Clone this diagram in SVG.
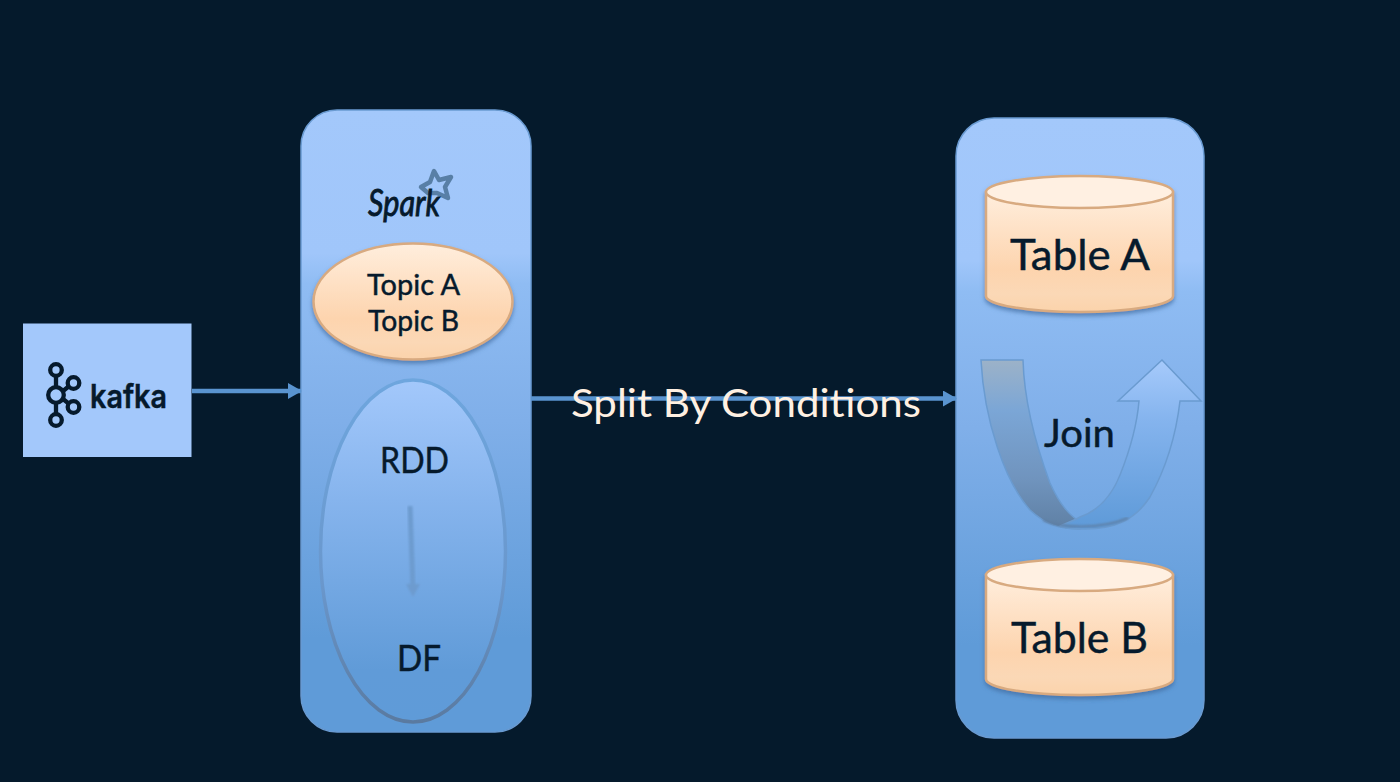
<svg xmlns="http://www.w3.org/2000/svg" width="1400" height="782" viewBox="0 0 1400 782">
<defs>
<style>
text{font-family:"Lato","Open Sans","Liberation Sans",sans-serif;fill:#061a2c;stroke:#061a2c;stroke-width:.45;text-anchor:middle}
.panel{fill:url(#panelGrad);stroke:#6a9bd2;stroke-width:1.500}
.cyl{fill:url(#cylGrad);stroke:#d8aa80;stroke-width:2.500}
.cyltop{fill:#fff0e2;stroke:#d8aa80;stroke-width:2.500}
.conn{stroke:#5a94d0;stroke-width:4.500;fill:none;marker-end:url(#head)}
.k{fill:none;stroke:#061a2c;stroke-width:4.300}
</style>
<marker id="head" markerUnits="userSpaceOnUse" markerWidth="14" markerHeight="16" refX="13" refY="8" orient="auto"><path d="M0 0L14 8L0 16Z" fill="#5a94d0"/></marker>
<linearGradient id="panelGrad" x1="0" y1="0" x2="0" y2="1">
<stop offset="0" stop-color="#a3c8fb"/><stop offset=".23" stop-color="#a0c6fa"/><stop offset=".28" stop-color="#8fbcf3"/><stop offset=".5" stop-color="#80afe9"/><stop offset=".85" stop-color="#5f9bd8"/><stop offset="1" stop-color="#5f9bd8"/>
</linearGradient>
<linearGradient id="cylGrad" x1="0" y1="0" x2="0" y2="1"><stop offset="0" stop-color="#ffeedd"/><stop offset=".65" stop-color="#fdd4ae"/><stop offset=".85" stop-color="#fbd8b6"/><stop offset="1" stop-color="#fbd3ab"/></linearGradient>
<linearGradient id="rddGrad" x1="0" y1="0" x2="0" y2="1"><stop offset="0" stop-color="#a3c8fb"/><stop offset=".35" stop-color="#86b4ed"/><stop offset=".85" stop-color="#609bd8"/><stop offset="1" stop-color="#5f9bd8"/></linearGradient>
<linearGradient id="rddStroke" x1="0" y1="0" x2="0" y2="1"><stop offset="0" stop-color="#6ea6de"/><stop offset=".6" stop-color="#6a97cc"/><stop offset="1" stop-color="#5a7aa0"/></linearGradient>
<linearGradient id="uBack" x1="0" y1="0" x2="0" y2="1"><stop offset="0" stop-color="#9cb2c8"/><stop offset=".3" stop-color="#7ba6d6"/><stop offset=".7" stop-color="#7094be"/><stop offset="1" stop-color="#5f80a4"/></linearGradient>
<linearGradient id="uFront" x1="0" y1="0" x2="0" y2="1"><stop offset="0" stop-color="#a6cafb"/><stop offset=".35" stop-color="#85b4ee"/><stop offset="1" stop-color="#5e9ad8"/></linearGradient>
<filter id="soft" x="-100%" y="-10%" width="300%" height="120%"><feGaussianBlur stdDeviation="1.200"/></filter>
<filter id="shadow" x="-10%" y="-10%" width="120%" height="125%"><feDropShadow dx="0" dy="3" stdDeviation="2" flood-color="#3f6a9e" flood-opacity=".7"/></filter>
</defs>
<rect width="1400" height="782" fill="#051a2c"/>
<g id="kafka">
<rect x="23" y="323.500" width="168.500" height="133.500" fill="#a3c8fb"/>
<path class="k" d="M56 376L56 386M56 414L56 404M63 391L68 387M63 399L68 403"/>
<circle class="k" cx="56" cy="370" r="5.800"/><circle class="k" cx="73.500" cy="383" r="5.800"/><circle class="k" cx="56" cy="395" r="7.800"/><circle class="k" cx="73.500" cy="407" r="5.800"/><circle class="k" cx="56" cy="420" r="5.800"/>
<text x="128.500" y="408" font-size="33" font-weight="600" textLength="77" lengthAdjust="spacingAndGlyphs" style="font-family:Inter,'Open Sans',sans-serif">kafka</text>
</g>
<g id="spark-panel"><rect class="panel" x="301" y="110" width="230" height="622" rx="36"/></g>
<g id="spark-logo">
<path d="M434 171L439 180L451 177L445 187L448 198L437 193L428 193L421 187L430 182Z" fill="none" stroke="#587fa6" stroke-width="4.500" stroke-linejoin="round"/>
<text x="404" y="216" font-size="37" font-style="italic" textLength="72" lengthAdjust="spacingAndGlyphs" style="stroke-width:.9">Spark</text>
</g>
<g id="topics">
<ellipse cx="413" cy="301.500" rx="99.500" ry="58" class="cyl" filter="url(#shadow)"/>
<text x="413.500" y="295" font-size="29" textLength="93" lengthAdjust="spacingAndGlyphs">Topic A</text>
<text x="413.500" y="331" font-size="29" textLength="91" lengthAdjust="spacingAndGlyphs">Topic B</text>
</g>
<g id="rdd-df">
<ellipse cx="413" cy="551" rx="92.500" ry="171" fill="url(#rddGrad)" stroke="url(#rddStroke)" stroke-width="3.500"/>
<text x="414.500" y="473" font-size="36" textLength="69" lengthAdjust="spacingAndGlyphs">RDD</text>
<text x="419" y="671" font-size="36" textLength="44" lengthAdjust="spacingAndGlyphs">DF</text>
</g>
<g id="table-panel"><rect class="panel" x="956" y="118" width="248" height="620" rx="38"/></g>
<g id="table-a" filter="url(#shadow)">
<path class="cyl" d="M986 192V296A93.500 16 0 0 0 1173 296V192Z"/>
<ellipse class="cyltop" cx="1079.500" cy="192" rx="93.500" ry="16"/>
</g>
<text x="1080" y="270" font-size="43" textLength="140" lengthAdjust="spacingAndGlyphs">Table A</text>
<g id="join">
<path d="M981 360L1023 360C1024 395 1034 440 1050 483C1060 505 1070 517 1084 524L1080 529C1060 529 1046 525 1030 510C1005 482 984 420 981 360Z" fill="url(#uBack)" stroke="#6a9bd0" stroke-width="1.500"/>
<path d="M1060 526C1070 522 1075 520 1080 517C1100 510 1112 495 1120 475C1130 450 1137 425 1139 401L1118 401L1162 360L1201 401L1180 401C1176 435 1165 470 1150 497C1135 520 1115 529 1085 529C1075 529 1065 528 1060 526Z" fill="url(#uFront)" stroke="#6a9bd0" stroke-width="1.500"/>
<path d="M1043 520C1060 528 1100 530 1128 518" fill="none" stroke="#5f7fa4" stroke-width="2" filter="url(#soft)"/>
<text x="1079.500" y="447" font-size="39" textLength="71" lengthAdjust="spacingAndGlyphs">Join</text>
</g>
<g id="table-b" filter="url(#shadow)">
<path class="cyl" d="M986 575V679A93.500 16 0 0 0 1173 679V575Z"/>
<ellipse class="cyltop" cx="1079.500" cy="575" rx="93.500" ry="16"/>
</g>
<text x="1079.500" y="653" font-size="43" textLength="137" lengthAdjust="spacingAndGlyphs">Table B</text>
<g id="connectors">
<path class="conn" d="M192 391H301"/>
<path class="conn" d="M531 398.500H956"/>
<path d="M410 506L413 590" fill="none" stroke="#6d9bcf" stroke-width="5" filter="url(#soft)"/>
<path d="M406 584L413 597L420 584Z" fill="#6d9bcf" filter="url(#soft)"/>
</g>
<text id="split-label" x="746" y="417" font-size="39" style="fill:#fff0e2;stroke:none" textLength="350" lengthAdjust="spacingAndGlyphs">Split By Conditions</text>
</svg>
